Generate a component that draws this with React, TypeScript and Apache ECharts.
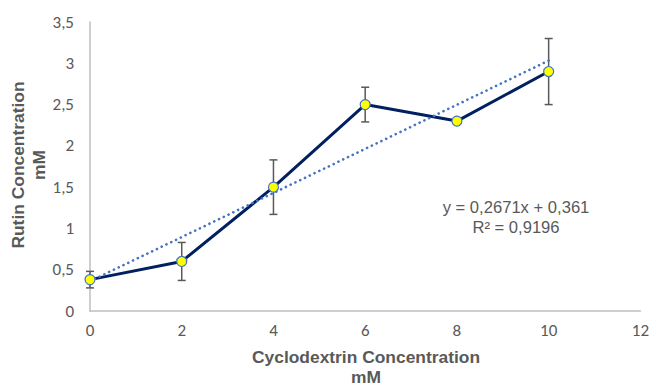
import React, { useEffect, useRef } from "react";
import * as echarts from "echarts";

const xValues = [0, 2, 4, 6, 8, 10];
const rutin = [0.38, 0.6, 1.5, 2.5, 2.3, 2.9];
const errors = [0.1, 0.23, 0.33, 0.21, 0, 0.4];
const trendX = [0, 10];
const trendY = [0.361, 3.032];
const equation = "y = 0,2671x + 0,361";
const rSquared = "R² = 0,9196";

const comma = (v: number) => String(v).replace(".", ",");

export default function App() {
  const ref = useRef<HTMLDivElement>(null);
  useEffect(() => {
    if (!ref.current) return;
    const chart = echarts.init(ref.current, null, { renderer: "svg" });
    const gray = "#595959";
    const mainData = xValues.map((x, i) => [x, rutin[i]]);
    const errData = xValues.map((x, i) => [x, rutin[i] - errors[i], rutin[i] + errors[i]]);
    const tickFont = "Carlito, Lato, sans-serif";
    chart.setOption({
      animation: false,
      backgroundColor: "#ffffff",
      grid: { left: 90, right: 9, top: 22, bottom: 76, containLabel: false },
      xAxis: {
        type: "value",
        min: 0,
        max: 12,
        interval: 2,
        axisLine: { show: true, lineStyle: { color: "#BFBFBF", width: 1.5 } },
        axisTick: { show: false },
        splitLine: { show: false },
        axisLabel: { color: gray, fontSize: 17, fontFamily: tickFont, margin: 11, formatter: comma },
      },
      yAxis: {
        type: "value",
        min: 0,
        max: 3.5,
        interval: 0.5,
        axisLine: { show: true, lineStyle: { color: "#BFBFBF", width: 1.5 } },
        axisTick: { show: false },
        splitLine: { show: false },
        axisLabel: { color: gray, fontSize: 17, fontFamily: tickFont, margin: 16, formatter: comma },
      },
      graphic: [
        {
          type: "text",
          x: 28,
          y: 165,
          rotation: Math.PI / 2,
          style: {
            text: "Rutin Concentration\nmM",
            fill: gray,
            font: "bold 17.4px 'Liberation Sans', Arial, sans-serif",
            align: "center",
            verticalAlign: "middle",
            lineHeight: 21,
          },
        },
        {
          type: "text",
          x: 366,
          y: 367,
          style: {
            text: "Cyclodextrin Concentration\nmM",
            fill: gray,
            font: "bold 17.4px 'Liberation Sans', Arial, sans-serif",
            align: "center",
            verticalAlign: "middle",
            lineHeight: 20,
          },
        },
        {
          type: "text",
          x: 516,
          y: 217,
          style: {
            text: equation + "\n" + rSquared,
            fill: gray,
            font: "16.6px 'Liberation Sans', Arial, sans-serif",
            align: "center",
            verticalAlign: "middle",
            lineHeight: 20,
          },
        },
      ],
      series: [
        {
          type: "custom",
          z: 1,
          data: errData,
          renderItem: (params: any, api: any) => {
            if (api.value(2) - api.value(1) <= 0) return null;
            const lo = api.coord([api.value(0), api.value(1)]);
            const hi = api.coord([api.value(0), api.value(2)]);
            const cap = 4;
            const style = { stroke: "#595959", lineWidth: 1.5 };
            return {
              type: "group",
              children: [
                { type: "line", shape: { x1: lo[0], y1: lo[1], x2: hi[0], y2: hi[1] }, style },
                { type: "line", shape: { x1: lo[0] - cap, y1: lo[1], x2: lo[0] + cap, y2: lo[1] }, style },
                { type: "line", shape: { x1: hi[0] - cap, y1: hi[1], x2: hi[0] + cap, y2: hi[1] }, style },
              ],
            };
          },
        },
        {
          type: "line",
          z: 2,
          data: mainData,
          showSymbol: false,
          symbol: "none",
          lineStyle: { color: "#002060", width: 3 },
        },
        {
          type: "line",
          z: 3,
          data: trendX.map((x, i) => [x, trendY[i]]),
          symbol: "none",
          lineStyle: { color: "#4472C4", width: 2.6, type: [0.1, 5.2], cap: "round" },
        },
        {
          type: "scatter",
          z: 4,
          data: mainData,
          symbol: "circle",
          symbolSize: 10,
          itemStyle: { color: "#FFFF00", borderColor: "#4472C4", borderWidth: 1.2, opacity: 1 },
        },
      ],
    });
    return () => chart.dispose();
  }, []);
  return (
    <div
      ref={ref}
      style={{ position: "fixed", left: 0, top: 0, width: 652, height: 387 }}
    />
  );
}
